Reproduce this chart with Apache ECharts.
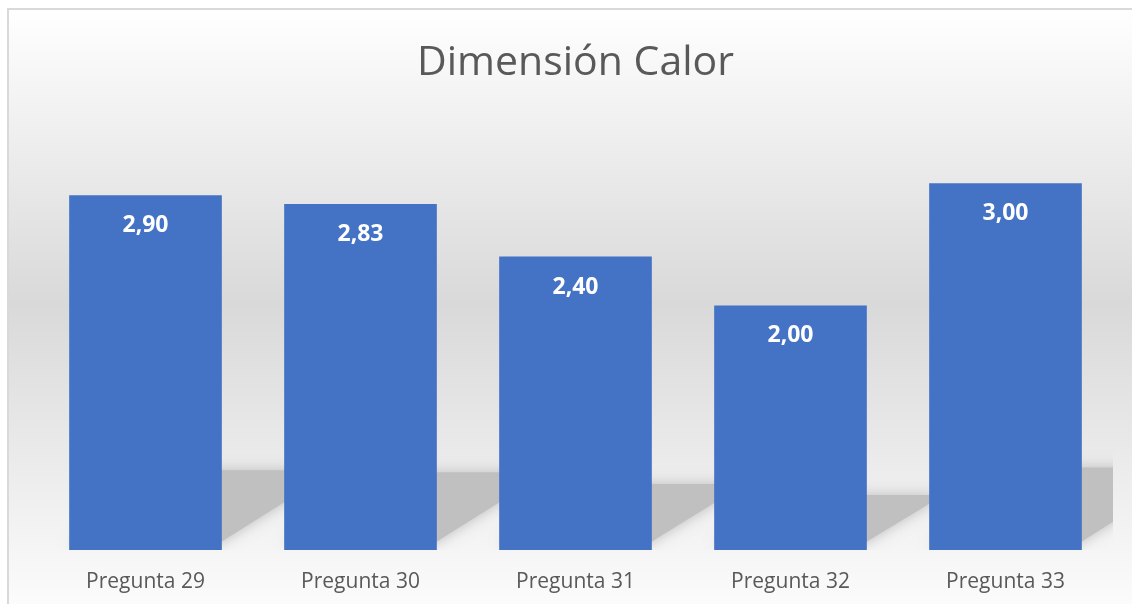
<!DOCTYPE html>
<html>
<head>
<meta charset="utf-8">
<script src="https://cdn.jsdelivr.net/npm/echarts@6/dist/echarts.min.js"></script>
<style>
html,body{margin:0;padding:0;background:#ffffff;}
#chart{width:1132px;height:604px;}
</style>
</head>
<body>
<div id="chart"></div>
<script>
const titleText = 'Dimensión Calor';
const categories = ['Pregunta 29', 'Pregunta 30', 'Pregunta 31', 'Pregunta 32', 'Pregunta 33'];
const values = [2.90, 2.83, 2.40, 2.00, 3.00];

const chart = echarts.init(document.getElementById('chart'), null, {renderer: 'canvas'});
const FONT = '"Open Sans", sans-serif';
const BAR_FRACTION = 0.71;

const option = {
  animation: false,
  backgroundColor: '#ffffff',
  graphic: [{
    type: 'rect',
    z: -10,
    silent: true,
    shape: {x: 8, y: 9, width: 1134, height: 600},
    style: {
      fill: {
        type: 'linear', x: 0, y: 0, x2: 0, y2: 1,
        colorStops: [
          {offset: 0, color: '#ffffff'},
          {offset: 0.49, color: '#d9d9d9'},
          {offset: 1, color: '#fcfcfc'}
        ]
      },
      stroke: '#d9d9d9',
      lineWidth: 2
    }
  }],
  title: {
    text: titleText,
    left: 417,
    top: 43,
    padding: 0,
    textStyle: {fontFamily: FONT, fontSize: 41, fontWeight: 'normal', color: '#595959'}
  },
  grid: {left: 38, right: 19, top: 122, bottom: 54, containLabel: false},
  xAxis: {
    type: 'category',
    data: categories,
    axisLine: {show: false},
    axisTick: {show: false},
    axisLabel: {margin: 22, fontFamily: FONT, fontSize: 21, color: '#595959'}
  },
  yAxis: {
    type: 'value',
    min: 0,
    max: 3.5,
    show: false,
    splitLine: {show: false}
  },
  series: [
    {
      type: 'custom',
      z: 1,
      clip: true,
      silent: true,
      data: values.map((v, i) => [i, v]),
      renderItem: function (params, api) {
        const idx = api.value(0);
        const v = api.value(1);
        const base = api.coord([idx, 0]);
        const top = api.coord([idx, v]);
        const bw = api.size([1, 0])[0] * BAR_FRACTION;
        const xl = base[0] - bw / 2, xr = base[0] + bw / 2, y0 = base[1];
        const hs = (y0 - top[1]) * 0.225;
        const dx = hs / 0.68;
        return {
          type: 'polygon',
          shape: {points: [[xl, y0 - 6], [xr - 4, y0 - 6], [xr + dx - 4, y0 - hs], [xl + dx, y0 - hs]]},
          style: {fill: '#c0c0c0', shadowBlur: 14, shadowColor: '#bdbdbd'}
        };
      }
    },
    {
      type: 'bar',
      z: 2,
      data: values,
      barWidth: (BAR_FRACTION * 100) + '%',
      itemStyle: {color: '#4472c4'},
      label: {
        show: true,
        position: 'insideTop',
        distance: 19,
        fontFamily: FONT,
        fontSize: 23,
        fontWeight: 'bold',
        color: '#ffffff',
        formatter: p => p.value.toFixed(2).replace('.', ',')
      }
    }
  ]
};
chart.setOption(option);
</script>
</body>
</html>
